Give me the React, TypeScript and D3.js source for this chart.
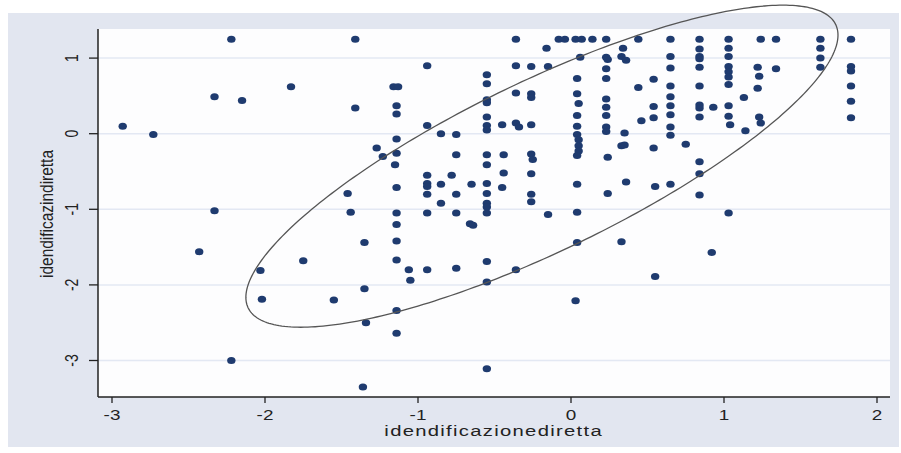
import React from "react";
import * as d3 from "d3";

// idendificazionediretta (x) values
const xVals = [
  -2.93, -2.73, -2.43, -2.33, -2.33, -2.22, -2.22, -2.15, -2.03, -2.02, -1.83, -1.75, -1.55, -1.46, -1.44, -1.41, -1.41, -1.36, -1.35, -1.35, -1.34, -1.27, -1.23,
  -1.16, -1.13, -1.14, -1.14, -1.14, -1.14, -1.15, -1.14, -1.14, -1.14, -1.14, -1.14, -1.14, -1.14, -1.06, -1.05,
  -0.94, -0.94, -0.94, -0.94, -0.94, -0.94, -0.94, -0.94,
  -0.85, -0.85, -0.85, -0.78,
  -0.75, -0.75, -0.75, -0.75, -0.75,
  -0.65, -0.66, -0.64,
  -0.55, -0.55, -0.55, -0.55, -0.55, -0.55, -0.55, -0.55, -0.55, -0.55, -0.55, -0.55, -0.55, -0.55, -0.55, -0.55, -0.55,
  -0.45, -0.44, -0.44, -0.45,
  -0.36, -0.36, -0.36, -0.36, -0.34, -0.36,
  -0.26, -0.26, -0.26, -0.26, -0.26, -0.25, -0.26, -0.26, -0.26,
  -0.16, -0.15, -0.15, -0.08, -0.04,
  0.03, 0.07, 0.06, 0.04, 0.04, 0.05, 0.04, 0.04, 0.04, 0.05, 0.05, 0.05, 0.04, 0.04, 0.04, 0.04, 0.03,
  0.14,
  0.23, 0.23, 0.24, 0.23, 0.23, 0.23, 0.23, 0.23, 0.23, 0.23, 0.24, 0.24,
  0.34, 0.33, 0.36, 0.35, 0.33, 0.35, 0.36, 0.33,
  0.44, 0.44, 0.46,
  0.54, 0.54, 0.54, 0.54, 0.55, 0.55,
  0.65, 0.65, 0.65, 0.65, 0.65, 0.65, 0.65, 0.65, 0.65, 0.65,
  0.75,
  0.84, 0.84, 0.84, 0.84, 0.84, 0.84, 0.84, 0.84, 0.84, 0.84, 0.84, 0.84,
  0.93, 0.92,
  1.03, 1.03, 1.03, 1.03, 1.03, 1.03, 1.03, 1.03, 1.03, 1.04, 1.03,
  1.13, 1.14,
  1.24, 1.22, 1.23, 1.22, 1.23, 1.24,
  1.34, 1.34,
  1.63, 1.63, 1.63, 1.63,
  1.83, 1.83, 1.83, 1.83, 1.83, 1.83,
];

// idendificazindiretta (y) values, same order as xVals
const yVals = [
  0.1, -0.01, -1.56, 0.49, -1.02, 1.25, -3.0, 0.44, -1.81, -2.19, 0.62, -1.68, -2.2, -0.79, -1.04, 1.25, 0.34, -3.35, -1.44, -2.05, -2.5, -0.19, -0.3,
  0.62, 0.62, 0.37, 0.26, -0.07, -0.26, -0.41, -0.71, -1.05, -1.2, -1.42, -1.67, -2.34, -2.64, -1.8, -1.94,
  0.9, 0.11, -0.55, -0.66, -0.7, -0.8, -1.05, -1.8,
  0.0, -0.67, -0.92, -0.55,
  -0.01, -0.28, -0.8, -1.05, -1.78,
  -0.67, -1.19, -1.21,
  0.78, 0.66, 0.45, 0.41, 0.22, 0.11, 0.05, -0.28, -0.41, -0.66, -0.79, -0.92, -0.97, -1.05, -1.69, -1.96, -3.11,
  0.12, -0.28, -0.52, -0.71,
  1.25, 0.9, 0.54, 0.14, 0.09, -1.8,
  0.89, 0.53, 0.48, 0.12, -0.27, -0.34, -0.53, -0.8, -0.9,
  1.13, 0.89, -1.07, 1.25, 1.25,
  1.25, 1.25, 1.01, 0.73, 0.53, 0.4, 0.24, 0.1, -0.01, -0.08, -0.16, -0.23, -0.29, -0.67, -1.04, -1.44, -2.21,
  1.25,
  1.25, 1.01, 0.98, 0.86, 0.73, 0.46, 0.35, 0.24, 0.09, 0.03, -0.31, -0.79,
  1.13, 1.02, 0.97, 0.01, -0.16, -0.15, -0.64, -1.43,
  1.25, 0.61, 0.17,
  0.72, 0.36, 0.21, -0.19, -0.7, -1.89,
  1.25, 1.02, 0.87, 0.63, 0.49, 0.37, 0.25, 0.09, -0.02, -0.67,
  -0.14,
  1.25, 1.12, 1.02, 0.99, 0.88, 0.63, 0.38, 0.34, 0.22, -0.37, -0.53, -0.81,
  0.35, -1.57,
  1.25, 1.13, 1.02, 0.89, 0.82, 0.75, 0.65, 0.37, 0.23, 0.12, -1.05,
  0.48, 0.04,
  1.25, 0.88, 0.76, 0.6, 0.22, 0.14,
  1.25, 0.86,
  1.25, 1.13, 1.0, 0.88,
  1.25, 0.89, 0.83, 0.63, 0.43, 0.21,
];

const xTicks = [-3, -2, -1, 0, 1, 2];
const yTicks = [-3, -2, -1, 0, 1];

// ellipse: centre, spreads and correlation in data units
const ellCenter = [-0.19, -0.43];
const ellSpread = [1.935, 2.13];
const ellRho = 0.814;

const W = 901;
const H = 453;
const plot = { left: 98, right: 890, top: 29, bottom: 397 };

export default function App() {
  const x = d3.scaleLinear().domain([-3, 2]).range([112, 877]);
  const y = d3.scaleLinear().domain([-3, 1]).range([360.5, 58.1]);

  const pts = xVals.map((v, i) => [v, yVals[i]]);

  // parametric ellipse
  const ts = d3.range(0, 2 * Math.PI + 0.01, 0.02);
  const ellPts = ts.map((t) => [
    ellCenter[0] + ellSpread[0] * Math.cos(t),
    ellCenter[1] + ellSpread[1] * (ellRho * Math.cos(t) + Math.sqrt(1 - ellRho * ellRho) * Math.sin(t)),
  ]);
  const line = d3
    .line<number[]>()
    .x((d) => x(d[0]))
    .y((d) => y(d[1]))
    .curve(d3.curveLinearClosed);

  const font = "Arial, 'Liberation Sans', sans-serif";

  return (
    <svg
      width={W}
      height={H}
      style={{ position: "absolute", left: 0, top: 0, display: "block" }}
    >
      <rect x={0} y={0} width={W} height={H} fill="#ffffff" />
      <rect x={8} y={13} width={891} height={434} fill="#e2e6f0" />
      <rect
        x={plot.left}
        y={plot.top}
        width={plot.right - plot.left}
        height={plot.bottom - plot.top}
        fill="#fdfdfe"
      />

      {/* grid lines */}
      {yTicks.map((t) => (
        <line
          key={"g" + t}
          x1={plot.left}
          x2={plot.right}
          y1={y(t)}
          y2={y(t)}
          stroke="#e3e8f3"
          strokeWidth={1.5}
        />
      ))}

      {/* points */}
      {pts.map((d, i) => (
        <ellipse key={i} cx={x(d[0])} cy={y(d[1])} rx={4.2} ry={3.5} fill="#1f3b6f" />
      ))}

      {/* ellipse */}
      <path d={line(ellPts) || ""} fill="none" stroke="#555" strokeWidth={1.3} />

      {/* axes */}
      <line x1={plot.left} x2={plot.left} y1={plot.top} y2={plot.bottom} stroke="#222" strokeWidth={1.5} />
      <line x1={plot.left} x2={plot.right} y1={plot.bottom} y2={plot.bottom} stroke="#222" strokeWidth={1.5} />

      {xTicks.map((t) => (
        <g key={"x" + t}>
          <line x1={x(t)} x2={x(t)} y1={plot.bottom} y2={plot.bottom + 6} stroke="#222" strokeWidth={1.3} />
          <text
            transform={`translate(${x(t)},420) scale(1.35,1)`}
            textAnchor="middle"
            fontFamily={font}
            fontSize={14}
            fill="#222"
          >
            {t}
          </text>
        </g>
      ))}

      {yTicks.map((t) => (
        <g key={"y" + t}>
          <line x1={plot.left - 9} x2={plot.left} y1={y(t)} y2={y(t)} stroke="#222" strokeWidth={1.3} />
          <text
            transform={`translate(78,${y(t)}) scale(1.35,1) rotate(-90)`}
            textAnchor="middle"
            fontFamily={font}
            fontSize={14}
            fill="#222"
          >
            {t}
          </text>
        </g>
      ))}

      <text
        transform="translate(493,436) scale(1.35,1)"
        textAnchor="middle"
        fontFamily={font}
        fontSize={15}
        fill="#222"
        textLength={161}
        lengthAdjust="spacing"
      >
        idendificazionediretta
      </text>
      <text
        transform="translate(53,214) scale(1.35,1) rotate(-90)"
        textAnchor="middle"
        fontFamily={font}
        fontSize={13}
        fill="#222"
        textLength={128}
        lengthAdjust="spacingAndGlyphs"
      >
        idendificazindiretta
      </text>
    </svg>
  );
}
